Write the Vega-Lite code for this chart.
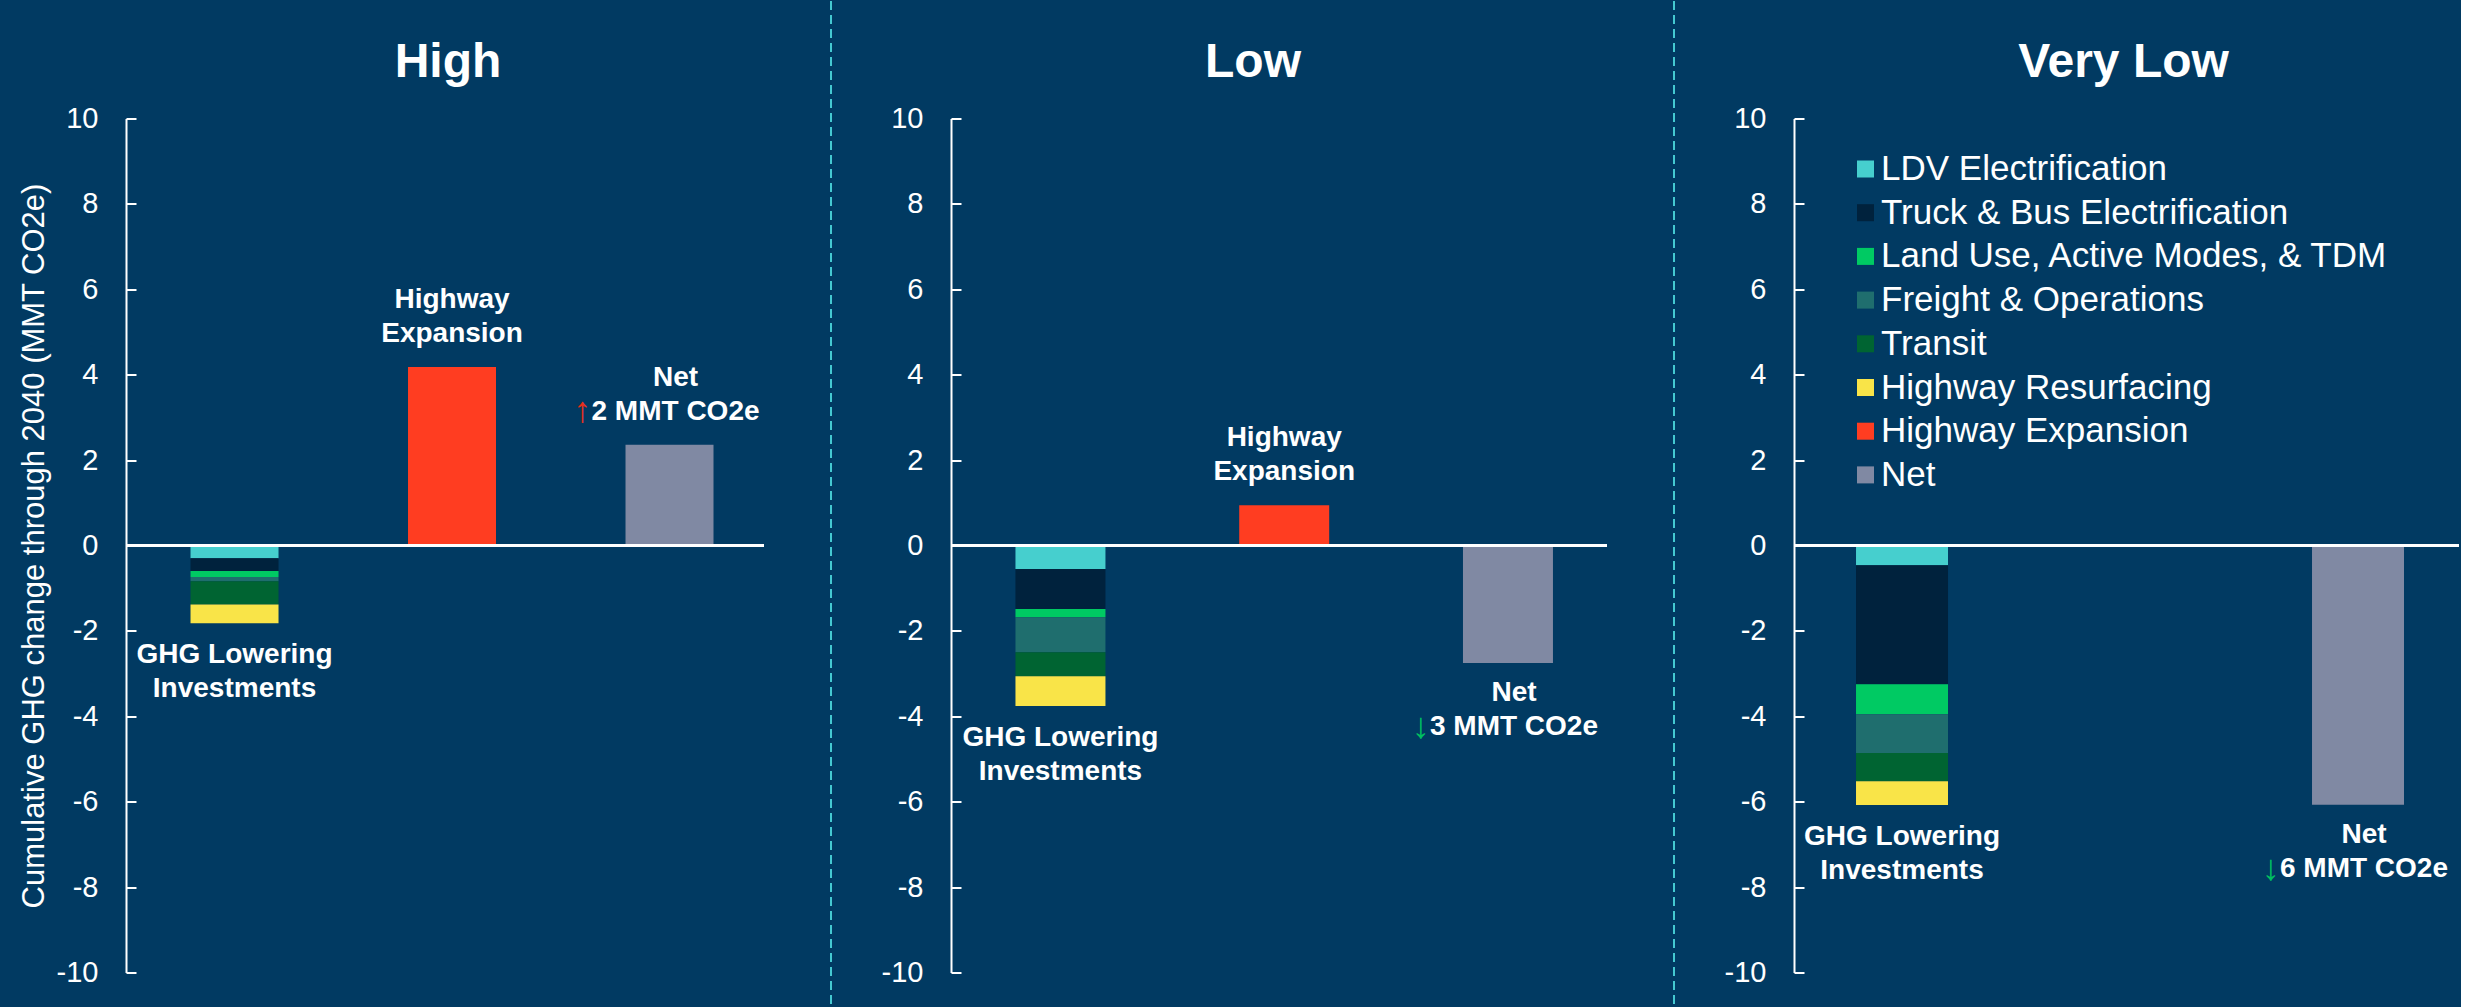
{
  "$schema": "https://vega.github.io/schema/vega-lite/v6.json",
  "background": "#013A62",
  "padding": {"left": 18, "top": 0, "right": 0, "bottom": 0},
  "bounds": "flush",
  "center": true,
  "spacing": 67,
  "resolve": {"legend": {"color": "independent"}},
  "datasets": {
    "bars": [
      {"scenario": "High", "bar": "GHG Lowering Investments", "category": "LDV Electrification", "value": -0.30},
      {"scenario": "High", "bar": "GHG Lowering Investments", "category": "Truck & Bus Electrification", "value": -0.30},
      {"scenario": "High", "bar": "GHG Lowering Investments", "category": "Land Use, Active Modes, & TDM", "value": -0.14},
      {"scenario": "High", "bar": "GHG Lowering Investments", "category": "Freight & Operations", "value": -0.10},
      {"scenario": "High", "bar": "GHG Lowering Investments", "category": "Transit", "value": -0.54},
      {"scenario": "High", "bar": "GHG Lowering Investments", "category": "Highway Resurfacing", "value": -0.44},
      {"scenario": "High", "bar": "Highway Expansion", "category": "Highway Expansion", "value": 4.18},
      {"scenario": "High", "bar": "Net", "category": "Net", "value": 2.36},
      {"scenario": "Low", "bar": "GHG Lowering Investments", "category": "LDV Electrification", "value": -0.55},
      {"scenario": "Low", "bar": "GHG Lowering Investments", "category": "Truck & Bus Electrification", "value": -0.94},
      {"scenario": "Low", "bar": "GHG Lowering Investments", "category": "Land Use, Active Modes, & TDM", "value": -0.19},
      {"scenario": "Low", "bar": "GHG Lowering Investments", "category": "Freight & Operations", "value": -0.82},
      {"scenario": "Low", "bar": "GHG Lowering Investments", "category": "Transit", "value": -0.56},
      {"scenario": "Low", "bar": "GHG Lowering Investments", "category": "Highway Resurfacing", "value": -0.70},
      {"scenario": "Low", "bar": "Highway Expansion", "category": "Highway Expansion", "value": 0.94},
      {"scenario": "Low", "bar": "Net", "category": "Net", "value": -2.75},
      {"scenario": "Very Low", "bar": "GHG Lowering Investments", "category": "LDV Electrification", "value": -0.46},
      {"scenario": "Very Low", "bar": "GHG Lowering Investments", "category": "Truck & Bus Electrification", "value": -2.79},
      {"scenario": "Very Low", "bar": "GHG Lowering Investments", "category": "Land Use, Active Modes, & TDM", "value": -0.70},
      {"scenario": "Very Low", "bar": "GHG Lowering Investments", "category": "Freight & Operations", "value": -0.91},
      {"scenario": "Very Low", "bar": "GHG Lowering Investments", "category": "Transit", "value": -0.66},
      {"scenario": "Very Low", "bar": "GHG Lowering Investments", "category": "Highway Resurfacing", "value": -0.56},
      {"scenario": "Very Low", "bar": "Net", "category": "Net", "value": -6.07}
    ],
    "divider": [{"pos": 0}]
  },
  "hconcat": [
    {
      "title": {"text": "High", "dx": 3},
      "width": 638,
      "height": 854,
      "data": {"name": "bars"},
      "transform": [{"filter": "datum.scenario === 'High'"}],
      "layer": [
        {
          "transform": [{"calculate": "indexof(['LDV Electrification','Truck & Bus Electrification','Land Use, Active Modes, & TDM','Freight & Operations','Transit','Highway Resurfacing','Highway Expansion','Net'], datum.category)", "as": "k"}],
          "mark": {"type": "bar"},
          "encoding": {
            "x": {"field": "bar", "type": "nominal", "scale": {"domain": ["GHG Lowering Investments", "Highway Expansion", "Net"], "paddingInner": 0.5954, "paddingOuter": 0.2644, "align": 0.561}, "axis": null},
            "y": {"field": "value", "type": "quantitative", "stack": "zero", "scale": {"domain": [-10, 10], "nice": false},
                  "axis": {"title": "Cumulative GHG change through 2040 (MMT CO2e)", "values": [-10, -8, -6, -4, -2, 0, 2, 4, 6, 8, 10], "labelExpr": "datum.value < 0 ? '-' + abs(datum.value) : '' + datum.value"}},
            "color": {"field": "category", "type": "nominal",
                      "scale": {"domain": ["LDV Electrification", "Truck & Bus Electrification", "Land Use, Active Modes, & TDM", "Freight & Operations", "Transit", "Highway Resurfacing", "Highway Expansion", "Net"],
                                "range": ["#46CFCE", "#00223D", "#00CA63", "#1F6E6E", "#006432", "#F9E448", "#FF3D21", "#8089A3"]},
                      "legend": null},
            "order": {"field": "k", "type": "quantitative"}
          }
        },
        {
          "transform": [{"aggregate": [{"op": "count", "as": "n"}]}],
          "mark": {"type": "rule", "color": "#FFFFFF", "strokeWidth": 3},
          "encoding": {"y": {"datum": 0, "type": "quantitative", "scale": {"domain": [-10, 10], "nice": false},
                             "axis": {"title": "Cumulative GHG change through 2040 (MMT CO2e)", "values": [-10, -8, -6, -4, -2, 0, 2, 4, 6, 8, 10], "labelExpr": "datum.value < 0 ? '-' + abs(datum.value) : '' + datum.value"}}}
        },
        {
          "transform": [
            {"aggregate": [{"op": "sum", "field": "value", "as": "total"}], "groupby": ["bar"]},
            {"filter": "datum.total > 0 && datum.bar !== 'Net'"},
            {"calculate": "datum.bar === 'Highway Expansion' ? 'Highway\\nExpansion' : 'GHG Lowering\\nInvestments'", "as": "label"}
          ],
          "mark": {"type": "text", "baseline": "bottom", "dy": -53, "lineBreak": "\n", "lineHeight": 34, "font": "Liberation Sans", "fontSize": 28, "fontWeight": "bold", "color": "#FFFFFF"},
          "encoding": {
            "x": {"field": "bar", "type": "nominal", "scale": {"domain": ["GHG Lowering Investments", "Highway Expansion", "Net"], "paddingInner": 0.5954, "paddingOuter": 0.2644, "align": 0.561}, "axis": null},
            "y": {"field": "total", "type": "quantitative", "scale": {"domain": [-10, 10], "nice": false},
                  "axis": {"title": "Cumulative GHG change through 2040 (MMT CO2e)", "values": [-10, -8, -6, -4, -2, 0, 2, 4, 6, 8, 10], "labelExpr": "datum.value < 0 ? '-' + abs(datum.value) : '' + datum.value"}},
            "text": {"field": "label", "type": "nominal"}
          }
        },
        {
          "transform": [
            {"aggregate": [{"op": "sum", "field": "value", "as": "total"}], "groupby": ["bar"]},
            {"filter": "datum.total < 0 && datum.bar !== 'Net'"},
            {"calculate": "datum.bar === 'Highway Expansion' ? 'Highway\\nExpansion' : 'GHG Lowering\\nInvestments'", "as": "label"}
          ],
          "mark": {"type": "text", "baseline": "top", "dy": 18, "lineBreak": "\n", "lineHeight": 34, "font": "Liberation Sans", "fontSize": 28, "fontWeight": "bold", "color": "#FFFFFF"},
          "encoding": {
            "x": {"field": "bar", "type": "nominal", "scale": {"domain": ["GHG Lowering Investments", "Highway Expansion", "Net"], "paddingInner": 0.5954, "paddingOuter": 0.2644, "align": 0.561}, "axis": null},
            "y": {"field": "total", "type": "quantitative", "scale": {"domain": [-10, 10], "nice": false},
                  "axis": {"title": "Cumulative GHG change through 2040 (MMT CO2e)", "values": [-10, -8, -6, -4, -2, 0, 2, 4, 6, 8, 10], "labelExpr": "datum.value < 0 ? '-' + abs(datum.value) : '' + datum.value"}},
            "text": {"field": "label", "type": "nominal"}
          }
        },
        {
          "transform": [
            {"aggregate": [{"op": "sum", "field": "value", "as": "total"}], "groupby": ["bar"]},
            {"filter": "datum.total > 0 && datum.bar === 'Net'"},
            {"calculate": "'Net\\n' + format(abs(datum.total), '.0f') + ' MMT CO2e'", "as": "label"}
          ],
          "mark": {"type": "text", "baseline": "bottom", "dy": -53, "dx": 6, "lineBreak": "\n", "lineHeight": 34, "font": "Liberation Sans", "fontSize": 28, "fontWeight": "bold", "color": "#FFFFFF"},
          "encoding": {
            "x": {"field": "bar", "type": "nominal", "scale": {"domain": ["GHG Lowering Investments", "Highway Expansion", "Net"], "paddingInner": 0.5954, "paddingOuter": 0.2644, "align": 0.561}, "axis": null},
            "y": {"field": "total", "type": "quantitative", "scale": {"domain": [-10, 10], "nice": false},
                  "axis": {"title": "Cumulative GHG change through 2040 (MMT CO2e)", "values": [-10, -8, -6, -4, -2, 0, 2, 4, 6, 8, 10], "labelExpr": "datum.value < 0 ? '-' + abs(datum.value) : '' + datum.value"}},
            "text": {"field": "label", "type": "nominal"}
          }
        },
        {
          "transform": [
            {"aggregate": [{"op": "sum", "field": "value", "as": "total"}], "groupby": ["bar"]},
            {"filter": "datum.total > 0 && datum.bar === 'Net'"},
            {"calculate": "'↑'", "as": "arrow"}
          ],
          "mark": {"type": "text", "baseline": "bottom", "align": "right", "dy": -15, "dx": -78, "font": "Liberation Sans", "fontSize": 36, "color": "#E8301C"},
          "encoding": {
            "x": {"field": "bar", "type": "nominal", "scale": {"domain": ["GHG Lowering Investments", "Highway Expansion", "Net"], "paddingInner": 0.5954, "paddingOuter": 0.2644, "align": 0.561}, "axis": null},
            "y": {"field": "total", "type": "quantitative", "scale": {"domain": [-10, 10], "nice": false},
                  "axis": {"title": "Cumulative GHG change through 2040 (MMT CO2e)", "values": [-10, -8, -6, -4, -2, 0, 2, 4, 6, 8, 10], "labelExpr": "datum.value < 0 ? '-' + abs(datum.value) : '' + datum.value"}},
            "text": {"field": "arrow", "type": "nominal"}
          }
        }
      ]
    },
    {
      "width": 53,
      "height": 1089,
      "data": {"name": "divider"},
      "mark": {"type": "rule", "color": "#45C9D1", "strokeWidth": 2, "strokeDash": [9, 5]},
      "encoding": {"x": {"field": "pos", "type": "quantitative", "scale": {"domain": [0, 1]}, "axis": null}}
    },
    {
      "title": {"text": "Low", "dx": -26},
      "width": 656,
      "height": 854,
      "data": {"name": "bars"},
      "transform": [{"filter": "datum.scenario === 'Low'"}],
      "layer": [
        {
          "transform": [{"calculate": "indexof(['LDV Electrification','Truck & Bus Electrification','Land Use, Active Modes, & TDM','Freight & Operations','Transit','Highway Resurfacing','Highway Expansion','Net'], datum.category)", "as": "k"}],
          "mark": {"type": "bar"},
          "encoding": {
            "x": {"field": "bar", "type": "nominal", "scale": {"domain": ["GHG Lowering Investments", "Highway Expansion", "Net"], "paddingInner": 0.5978, "paddingOuter": 0.2648, "align": 0.544}, "axis": null},
            "y": {"field": "value", "type": "quantitative", "stack": "zero", "scale": {"domain": [-10, 10], "nice": false},
                  "axis": {"title": null, "values": [-10, -8, -6, -4, -2, 0, 2, 4, 6, 8, 10], "labelExpr": "datum.value < 0 ? '-' + abs(datum.value) : '' + datum.value"}},
            "color": {"field": "category", "type": "nominal",
                      "scale": {"domain": ["LDV Electrification", "Truck & Bus Electrification", "Land Use, Active Modes, & TDM", "Freight & Operations", "Transit", "Highway Resurfacing", "Highway Expansion", "Net"],
                                "range": ["#46CFCE", "#00223D", "#00CA63", "#1F6E6E", "#006432", "#F9E448", "#FF3D21", "#8089A3"]},
                      "legend": null},
            "order": {"field": "k", "type": "quantitative"}
          }
        },
        {
          "transform": [{"aggregate": [{"op": "count", "as": "n"}]}],
          "mark": {"type": "rule", "color": "#FFFFFF", "strokeWidth": 3},
          "encoding": {"y": {"datum": 0, "type": "quantitative", "scale": {"domain": [-10, 10], "nice": false},
                             "axis": {"title": null, "values": [-10, -8, -6, -4, -2, 0, 2, 4, 6, 8, 10], "labelExpr": "datum.value < 0 ? '-' + abs(datum.value) : '' + datum.value"}}}
        },
        {
          "transform": [
            {"aggregate": [{"op": "sum", "field": "value", "as": "total"}], "groupby": ["bar"]},
            {"filter": "datum.total > 0 && datum.bar !== 'Net'"},
            {"calculate": "datum.bar === 'Highway Expansion' ? 'Highway\\nExpansion' : 'GHG Lowering\\nInvestments'", "as": "label"}
          ],
          "mark": {"type": "text", "baseline": "bottom", "dy": -53, "lineBreak": "\n", "lineHeight": 34, "font": "Liberation Sans", "fontSize": 28, "fontWeight": "bold", "color": "#FFFFFF"},
          "encoding": {
            "x": {"field": "bar", "type": "nominal", "scale": {"domain": ["GHG Lowering Investments", "Highway Expansion", "Net"], "paddingInner": 0.5978, "paddingOuter": 0.2648, "align": 0.544}, "axis": null},
            "y": {"field": "total", "type": "quantitative", "scale": {"domain": [-10, 10], "nice": false},
                  "axis": {"title": null, "values": [-10, -8, -6, -4, -2, 0, 2, 4, 6, 8, 10], "labelExpr": "datum.value < 0 ? '-' + abs(datum.value) : '' + datum.value"}},
            "text": {"field": "label", "type": "nominal"}
          }
        },
        {
          "transform": [
            {"aggregate": [{"op": "sum", "field": "value", "as": "total"}], "groupby": ["bar"]},
            {"filter": "datum.total < 0 && datum.bar !== 'Net'"},
            {"calculate": "datum.bar === 'Highway Expansion' ? 'Highway\\nExpansion' : 'GHG Lowering\\nInvestments'", "as": "label"}
          ],
          "mark": {"type": "text", "baseline": "top", "dy": 18, "lineBreak": "\n", "lineHeight": 34, "font": "Liberation Sans", "fontSize": 28, "fontWeight": "bold", "color": "#FFFFFF"},
          "encoding": {
            "x": {"field": "bar", "type": "nominal", "scale": {"domain": ["GHG Lowering Investments", "Highway Expansion", "Net"], "paddingInner": 0.5978, "paddingOuter": 0.2648, "align": 0.544}, "axis": null},
            "y": {"field": "total", "type": "quantitative", "scale": {"domain": [-10, 10], "nice": false},
                  "axis": {"title": null, "values": [-10, -8, -6, -4, -2, 0, 2, 4, 6, 8, 10], "labelExpr": "datum.value < 0 ? '-' + abs(datum.value) : '' + datum.value"}},
            "text": {"field": "label", "type": "nominal"}
          }
        },
        {
          "transform": [
            {"aggregate": [{"op": "sum", "field": "value", "as": "total"}], "groupby": ["bar"]},
            {"filter": "datum.total < 0 && datum.bar === 'Net'"},
            {"calculate": "'Net\\n' + format(abs(datum.total), '.0f') + ' MMT CO2e'", "as": "label"}
          ],
          "mark": {"type": "text", "baseline": "top", "dy": 16, "dx": 6, "lineBreak": "\n", "lineHeight": 34, "font": "Liberation Sans", "fontSize": 28, "fontWeight": "bold", "color": "#FFFFFF"},
          "encoding": {
            "x": {"field": "bar", "type": "nominal", "scale": {"domain": ["GHG Lowering Investments", "Highway Expansion", "Net"], "paddingInner": 0.5978, "paddingOuter": 0.2648, "align": 0.544}, "axis": null},
            "y": {"field": "total", "type": "quantitative", "scale": {"domain": [-10, 10], "nice": false},
                  "axis": {"title": null, "values": [-10, -8, -6, -4, -2, 0, 2, 4, 6, 8, 10], "labelExpr": "datum.value < 0 ? '-' + abs(datum.value) : '' + datum.value"}},
            "text": {"field": "label", "type": "nominal"}
          }
        },
        {
          "transform": [
            {"aggregate": [{"op": "sum", "field": "value", "as": "total"}], "groupby": ["bar"]},
            {"filter": "datum.total < 0 && datum.bar === 'Net'"},
            {"calculate": "'↓'", "as": "arrow"}
          ],
          "mark": {"type": "text", "baseline": "top", "align": "right", "dy": 47, "dx": -78, "font": "Liberation Sans", "fontSize": 36, "color": "#00C060"},
          "encoding": {
            "x": {"field": "bar", "type": "nominal", "scale": {"domain": ["GHG Lowering Investments", "Highway Expansion", "Net"], "paddingInner": 0.5978, "paddingOuter": 0.2648, "align": 0.544}, "axis": null},
            "y": {"field": "total", "type": "quantitative", "scale": {"domain": [-10, 10], "nice": false},
                  "axis": {"title": null, "values": [-10, -8, -6, -4, -2, 0, 2, 4, 6, 8, 10], "labelExpr": "datum.value < 0 ? '-' + abs(datum.value) : '' + datum.value"}},
            "text": {"field": "arrow", "type": "nominal"}
          }
        }
      ]
    },
    {
      "width": 53,
      "height": 1089,
      "data": {"name": "divider"},
      "mark": {"type": "rule", "color": "#45C9D1", "strokeWidth": 2, "strokeDash": [9, 5]},
      "encoding": {"x": {"field": "pos", "type": "quantitative", "scale": {"domain": [0, 1]}, "axis": null}}
    },
    {
      "title": {"text": "Very Low", "dx": -3},
      "width": 665,
      "height": 854,
      "data": {"name": "bars"},
      "transform": [{"filter": "datum.scenario === 'Very Low'"}],
      "layer": [
        {
          "transform": [{"calculate": "indexof(['LDV Electrification','Truck & Bus Electrification','Land Use, Active Modes, & TDM','Freight & Operations','Transit','Highway Resurfacing','Highway Expansion','Net'], datum.category)", "as": "k"}],
          "mark": {"type": "bar"},
          "encoding": {
            "x": {"field": "bar", "type": "nominal", "scale": {"domain": ["GHG Lowering Investments", "Highway Expansion", "Net"], "paddingInner": 0.5965, "paddingOuter": 0.2566, "align": 0.53}, "axis": null},
            "y": {"field": "value", "type": "quantitative", "stack": "zero", "scale": {"domain": [-10, 10], "nice": false},
                  "axis": {"title": null, "values": [-10, -8, -6, -4, -2, 0, 2, 4, 6, 8, 10], "labelExpr": "datum.value < 0 ? '-' + abs(datum.value) : '' + datum.value"}},
            "color": {"field": "category", "type": "nominal",
                      "scale": {"domain": ["LDV Electrification", "Truck & Bus Electrification", "Land Use, Active Modes, & TDM", "Freight & Operations", "Transit", "Highway Resurfacing", "Highway Expansion", "Net"],
                                "range": ["#46CFCE", "#00223D", "#00CA63", "#1F6E6E", "#006432", "#F9E448", "#FF3D21", "#8089A3"]},
                      "legend": {"title": null, "orient": "none", "legendX": 54, "legendY": 33, "padding": 0,
                                 "symbolType": "square", "symbolSize": 289, "symbolStrokeWidth": 0,
                                 "labelFont": "Liberation Sans", "labelFontSize": 35, "labelColor": "#FFFFFF", "labelLimit": 800, "labelOffset": -2,
                                 "rowPadding": 7.7}},
            "order": {"field": "k", "type": "quantitative"}
          }
        },
        {
          "transform": [{"aggregate": [{"op": "count", "as": "n"}]}],
          "mark": {"type": "rule", "color": "#FFFFFF", "strokeWidth": 3},
          "encoding": {"y": {"datum": 0, "type": "quantitative", "scale": {"domain": [-10, 10], "nice": false},
                             "axis": {"title": null, "values": [-10, -8, -6, -4, -2, 0, 2, 4, 6, 8, 10], "labelExpr": "datum.value < 0 ? '-' + abs(datum.value) : '' + datum.value"}}}
        },
        {
          "transform": [
            {"aggregate": [{"op": "sum", "field": "value", "as": "total"}], "groupby": ["bar"]},
            {"filter": "datum.total < 0 && datum.bar !== 'Net'"},
            {"calculate": "datum.bar === 'Highway Expansion' ? 'Highway\\nExpansion' : 'GHG Lowering\\nInvestments'", "as": "label"}
          ],
          "mark": {"type": "text", "baseline": "top", "dy": 18, "lineBreak": "\n", "lineHeight": 34, "font": "Liberation Sans", "fontSize": 28, "fontWeight": "bold", "color": "#FFFFFF"},
          "encoding": {
            "x": {"field": "bar", "type": "nominal", "scale": {"domain": ["GHG Lowering Investments", "Highway Expansion", "Net"], "paddingInner": 0.5965, "paddingOuter": 0.2566, "align": 0.53}, "axis": null},
            "y": {"field": "total", "type": "quantitative", "scale": {"domain": [-10, 10], "nice": false},
                  "axis": {"title": null, "values": [-10, -8, -6, -4, -2, 0, 2, 4, 6, 8, 10], "labelExpr": "datum.value < 0 ? '-' + abs(datum.value) : '' + datum.value"}},
            "text": {"field": "label", "type": "nominal"}
          }
        },
        {
          "transform": [
            {"aggregate": [{"op": "sum", "field": "value", "as": "total"}], "groupby": ["bar"]},
            {"filter": "datum.total < 0 && datum.bar === 'Net'"},
            {"calculate": "'Net\\n' + format(abs(datum.total), '.0f') + ' MMT CO2e'", "as": "label"}
          ],
          "mark": {"type": "text", "baseline": "top", "dy": 16, "dx": 6, "lineBreak": "\n", "lineHeight": 34, "font": "Liberation Sans", "fontSize": 28, "fontWeight": "bold", "color": "#FFFFFF"},
          "encoding": {
            "x": {"field": "bar", "type": "nominal", "scale": {"domain": ["GHG Lowering Investments", "Highway Expansion", "Net"], "paddingInner": 0.5965, "paddingOuter": 0.2566, "align": 0.53}, "axis": null},
            "y": {"field": "total", "type": "quantitative", "scale": {"domain": [-10, 10], "nice": false},
                  "axis": {"title": null, "values": [-10, -8, -6, -4, -2, 0, 2, 4, 6, 8, 10], "labelExpr": "datum.value < 0 ? '-' + abs(datum.value) : '' + datum.value"}},
            "text": {"field": "label", "type": "nominal"}
          }
        },
        {
          "transform": [
            {"aggregate": [{"op": "sum", "field": "value", "as": "total"}], "groupby": ["bar"]},
            {"filter": "datum.total < 0 && datum.bar === 'Net'"},
            {"calculate": "'↓'", "as": "arrow"}
          ],
          "mark": {"type": "text", "baseline": "top", "align": "right", "dy": 47, "dx": -78, "font": "Liberation Sans", "fontSize": 36, "color": "#00C060"},
          "encoding": {
            "x": {"field": "bar", "type": "nominal", "scale": {"domain": ["GHG Lowering Investments", "Highway Expansion", "Net"], "paddingInner": 0.5965, "paddingOuter": 0.2566, "align": 0.53}, "axis": null},
            "y": {"field": "total", "type": "quantitative", "scale": {"domain": [-10, 10], "nice": false},
                  "axis": {"title": null, "values": [-10, -8, -6, -4, -2, 0, 2, 4, 6, 8, 10], "labelExpr": "datum.value < 0 ? '-' + abs(datum.value) : '' + datum.value"}},
            "text": {"field": "arrow", "type": "nominal"}
          }
        }
      ]
    }
  ],
  "config": {
    "view": {"stroke": null},
    "font": "Liberation Sans",
    "title": {"color": "#FFFFFF", "fontSize": 48, "fontWeight": "bold", "font": "Liberation Sans", "anchor": "middle", "frame": "group", "baseline": "alphabetic", "offset": 18},
    "axisY": {
      "domainColor": "#FFFFFF", "domainWidth": 2,
      "tickColor": "#FFFFFF", "tickWidth": 2, "tickSize": -10,
      "labelColor": "#FFFFFF", "labelFont": "Liberation Sans", "labelFontSize": 29, "labelPadding": 38,
      "grid": false,
      "titleColor": "#FFFFFF", "titleFont": "Liberation Sans", "titleFontSize": 31, "titleFontWeight": "normal", "titlePadding": 6
    }
  }
}
